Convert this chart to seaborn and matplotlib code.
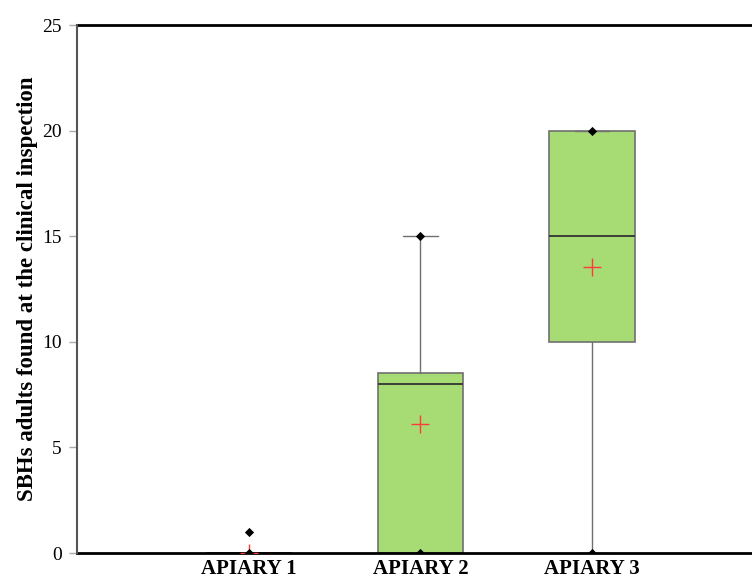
import matplotlib
matplotlib.use("Agg")
import matplotlib.pyplot as plt
import seaborn as sns
import pandas as pd

# Summary statistics
categories = ["APIARY 1", "APIARY 2", "APIARY 3"]
q1 = [0, 0, 10]
median = [0, 8, 15]
q3 = [0, 8.5, 20]
whisker_low = [0, 0, 0]
whisker_high = [0, 15, 20]
minimum = [0, 0, 0]
maximum = [1, 15, 20]
mean = [0, 6.1, 13.55]
yticks = [0, 5, 10, 15, 20, 25]

sns.set_theme(style="white")
plt.rcParams["font.family"] = ["Liberation Serif", "DejaVu Serif"]
plt.rcParams["text.color"] = "black"
plt.rcParams["axes.labelcolor"] = "black"
plt.rcParams["xtick.color"] = "black"
plt.rcParams["ytick.color"] = "black"

fig = plt.figure(figsize=(7.52, 5.8), dpi=100)
ax = fig.add_axes([77 / 752, 27 / 580, 1 - 77 / 752, 528 / 580])

positions = [1, 2, 3]
stats = []
for i, c in enumerate(categories):
    stats.append(dict(label=c, q1=q1[i], med=median[i], q3=q3[i],
                      whislo=whisker_low[i], whishi=whisker_high[i], fliers=[]))

ax.bxp(stats, positions=positions, widths=0.5, patch_artist=True,
       showfliers=False,
       boxprops=dict(facecolor="#a7db74", edgecolor="#707070", linewidth=1.2),
       medianprops=dict(color="#333333", linewidth=1.3),
       whiskerprops=dict(color="#707070", linewidth=1.0),
       capprops=dict(color="#707070", linewidth=1.0),
       capwidths=0.2, manage_ticks=False, zorder=2)

df_ext = pd.DataFrame({"pos": positions * 2, "val": minimum + maximum})
sns.scatterplot(data=df_ext, x="pos", y="val", marker="D", color="black",
                s=22, edgecolor="black", linewidth=0, ax=ax, zorder=4)
df_mean = pd.DataFrame({"pos": positions, "val": mean})
sns.scatterplot(data=df_mean, x="pos", y="val", marker="+", color="#ff3b3b",
                s=180, linewidth=1.0, ax=ax, zorder=3)

ax.set_xlim(0, 676 / 172)
ax.set_ylim(0, 25)
ax.set_xticks(positions)
ax.set_xticklabels(categories, fontsize=15, fontweight="bold")
ax.set_yticks(yticks)
ax.set_yticklabels([str(t) for t in yticks], fontsize=14)
ax.tick_params(axis="x", length=0, pad=4.5)
ax.tick_params(axis="y", length=6, width=1, color="#aaaaaa", direction="out", pad=5, left=True)
ax.set_xlabel("")
ax.set_ylabel("SBHs adults found at the clinical inspection", fontsize=16.5,
              fontweight="bold", labelpad=3)

ax.spines["right"].set_visible(False)
ax.spines["top"].set_color("black")
ax.spines["top"].set_linewidth(2)
ax.spines["bottom"].set_color("black")
ax.spines["bottom"].set_linewidth(2)
ax.spines["left"].set_color("#555555")
ax.spines["left"].set_linewidth(1.5)
ax.spines["left"].set_zorder(10)
for s in ax.spines.values():
    s.set_clip_on(False)

fig.savefig("out.png", dpi=100)
